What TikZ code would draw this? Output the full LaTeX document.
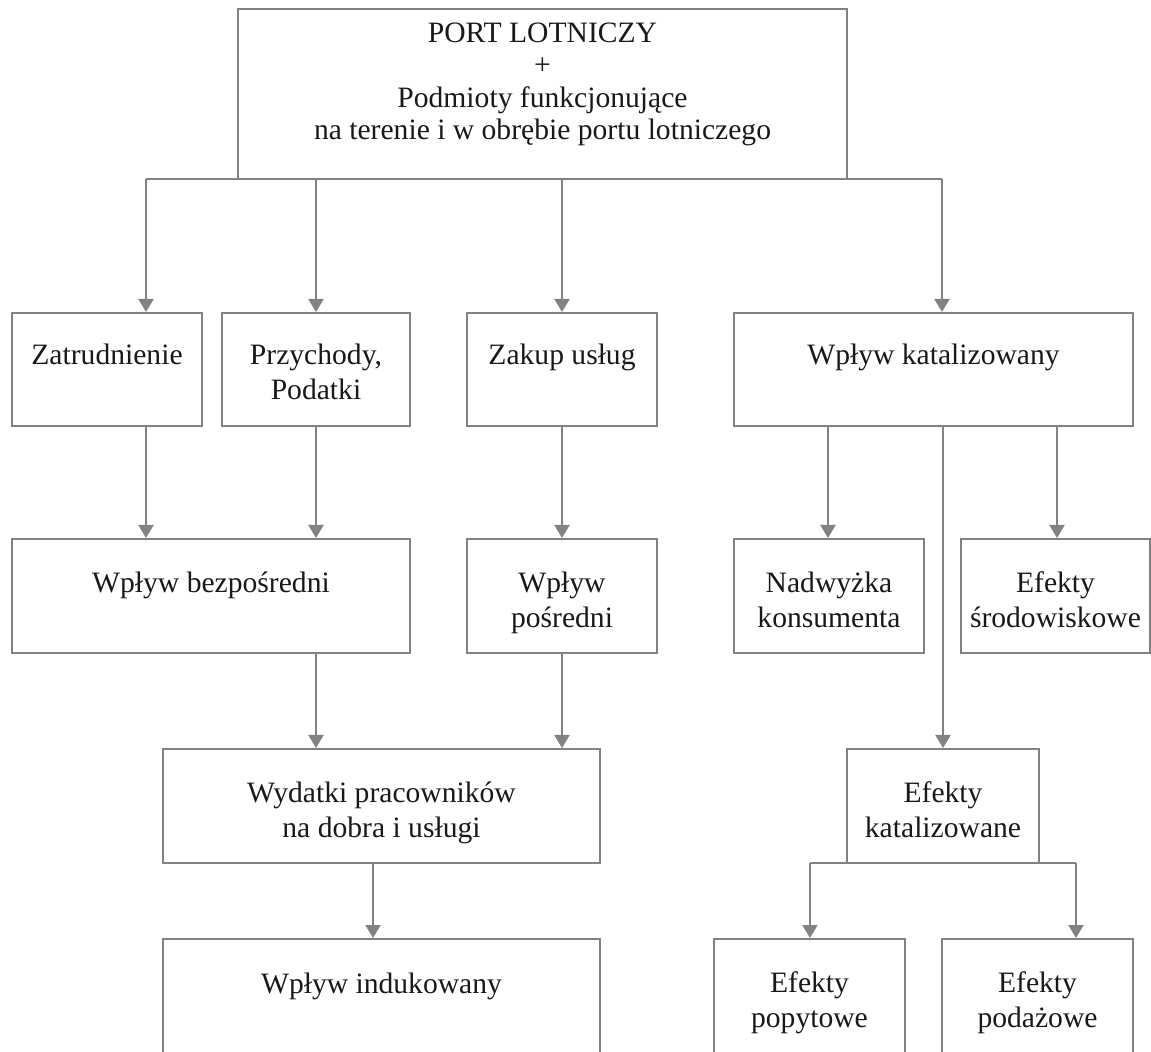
\documentclass[tikz,border=0pt]{standalone}
\usepackage{fontspec}
\setmainfont{Liberation Serif}
\usetikzlibrary{arrows.meta,fit}
\definecolor{edge}{RGB}{130,130,130}
\definecolor{ink}{RGB}{25,25,25}
\begin{document}
\begin{tikzpicture}[x=0.5pt,y=-0.5pt,
  box/.style={draw=edge,line width=1pt,inner sep=0pt,fill=none},
  % texts are placed by the baseline of their last line
  txt/.style={text=ink,align=center,anchor=base,inner sep=0pt,
    font=\fontsize{14.8pt}{17.5pt}\selectfont},
  toptxt/.style={txt,font=\fontsize{14.8pt}{16.25pt}\selectfont},
  link/.style={draw=edge,line width=1pt},
  arr/.style={link,-{Triangle[width=7.5pt,length=6.5pt]}}]
\clip (0,0) rectangle (1151,1052);

% boxes
\node[box,fit={(238,9)(847,179)}]    (port) {};
\node[box,fit={(12,313)(202,426)}]   (zat) {};
\node[box,fit={(222,313)(410,426)}]  (prz) {};
\node[box,fit={(467,313)(657,426)}]  (zak) {};
\node[box,fit={(734,313)(1133,426)}] (kat) {};
\node[box,fit={(12,539)(410,653)}]   (bez) {};
\node[box,fit={(467,539)(657,653)}]  (pos) {};
\node[box,fit={(734,539)(924,653)}]  (nad) {};
\node[box,fit={(961,539)(1150,653)}] (sro) {};
\node[box,fit={(163,749)(600,863)}]  (wyd) {};
\node[box,fit={(847,749)(1039,863)}] (ekat) {};
\node[box,fit={(163,939)(600,1080)}] (ind) {};
\node[box,fit={(714,939)(905,1080)}] (pop) {};
\node[box,fit={(942,939)(1133,1080)}] (pod) {};

% texts
\node[toptxt] (port-t) at (542.5,140) {PORT LOTNICZY\\+\\Podmioty funkcjonujące\\na terenie i w obrębie portu lotniczego};
\node[txt] (zat-t)  at (107,365)    {Zatrudnienie};
\node[txt] (prz-t)  at (316,400)    {Przychody,\\Podatki};
\node[txt] (zak-t)  at (562,365)    {Zakup usług};
\node[txt] (kat-t)  at (933.5,365)  {Wpływ katalizowany};
\node[txt] (bez-t)  at (211,593)    {Wpływ bezpośredni};
\node[txt] (pos-t)  at (562,628)    {Wpływ\\pośredni};
\node[txt] (nad-t)  at (829,628)    {Nadwyżka\\konsumenta};
\node[txt] (sro-t)  at (1055.5,628) {Efekty\\środowiskowe};
\node[txt] (wyd-t)  at (381.5,837)  {Wydatki pracowników\\na dobra i usługi};
\node[txt] (ekat-t) at (943,837)    {Efekty\\katalizowane};
\node[txt] (ind-t)  at (381.5,993)  {Wpływ indukowany};
\node[txt] (pop-t)  at (809.5,1027) {Efekty\\popytowe};
\node[txt] (pod-t)  at (1037.5,1027) {Efekty\\podażowe};

% branching from the airport box
\coordinate (b1) at (146,179);
\coordinate (b4) at (942,179);
\draw[link] (b1) -- (b4);
\draw[arr] (b1) -- (b1 |- zat.north);
\draw[arr] (prz.north |- port.south) -- (prz.north);
\draw[arr] (zak.north |- port.south) -- (zak.north);
\draw[arr] (b4) -- (b4 |- kat.north);

% direct and indirect impact
\coordinate (z1) at (146,426);
\draw[arr] (z1) -- (z1 |- bez.north);
\draw[arr] (prz.south) -- (prz.south |- bez.north);
\draw[arr] (zak.south) -- (pos.north);
\draw[arr] (bez.south -| prz.south) -- (wyd.north -| prz.south);
\draw[arr] (pos.south) -- (pos.south |- wyd.north);
\coordinate (w1) at (373,863);
\draw[arr] (w1) -- (w1 |- ind.north);

% catalytic impact
\coordinate (k1) at (828,426);
\coordinate (k2) at (1057,426);
\draw[arr] (k1) -- (k1 |- nad.north);
\draw[arr] (k2) -- (k2 |- sro.north);
\draw[arr] (kat.south -| ekat.north) -- (ekat.north);
\coordinate (e1) at (810,863);
\coordinate (e2) at (1076,863);
\draw[link] (e1) -- (e2);
\draw[arr] (e1) -- (e1 |- pop.north);
\draw[arr] (e2) -- (e2 |- pod.north);
\end{tikzpicture}
\end{document}
